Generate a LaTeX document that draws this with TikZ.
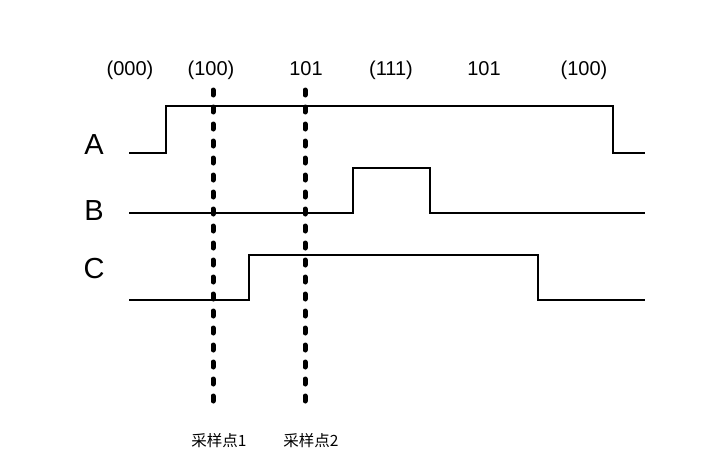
\documentclass[tikz,border=0pt]{standalone}
\usepackage{fontspec}
\setmainfont{Liberation Sans}
\newfontfamily\cjk{Noto Sans CJK SC}
\usetikzlibrary{positioning}
\tikzset{
  wave/.style={line width=2.9pt,line join=miter},
  sample/.style={line width=5pt,line cap=round,dash pattern=on 5pt off 12pt},
  signame/.style={inner sep=0pt,font=\fontsize{29}{29}\selectfont},
  state/.style={inner sep=0pt,font=\fontsize{20}{20}\selectfont},
  tag/.style={inner sep=0pt,font=\cjk\fontsize{15.5}{15.5}\selectfont}
}
\begin{document}
\begin{tikzpicture}[x=1pt,y=-1pt]
\useasboundingbox (0,0) rectangle (719,471);
% signal names
\node[signame] (nA) at (94,145) {A};
\node[signame] (nB) at (94,211) {B};
\node[signame] (nC) at (94,269) {C};
% states above the waves
\node[state] (s1) at (130,70) {(000)};
\node[state] (s2) at (211,70) {(100)};
\node[state] (s3) at (306,69) {101};
\node[state] (s4) at (391,70) {(111)};
\node[state] (s5) at (484,69) {101};
\node[state] (s6) at (584,70) {(100)};
% waveforms
\draw[wave] (129,153) -- (166,153) -- (166,106) -- (613,106) -- (613,153) -- (645,153);
\draw[wave] (129,213) -- (353,213) -- (353,168) -- (430,168) -- (430,213) -- (645,213);
\draw[wave] (129,300) -- (249,300) -- (249,255) -- (538,255) -- (538,300) -- (645,300);
% sampling points
\coordinate (p1top) at (213,90);
\coordinate (p1bot) at (213,411);
\coordinate (p2top) at (305,90);
\coordinate (p2bot) at (305,411);
\draw[sample] (p1top) -- (p1bot);
\draw[sample] (p2top) -- (p2bot);
\node[tag] (t1) at (219,441) {采样点1};
\node[tag] (t2) at (311,441) {采样点2};
\end{tikzpicture}
\end{document}
